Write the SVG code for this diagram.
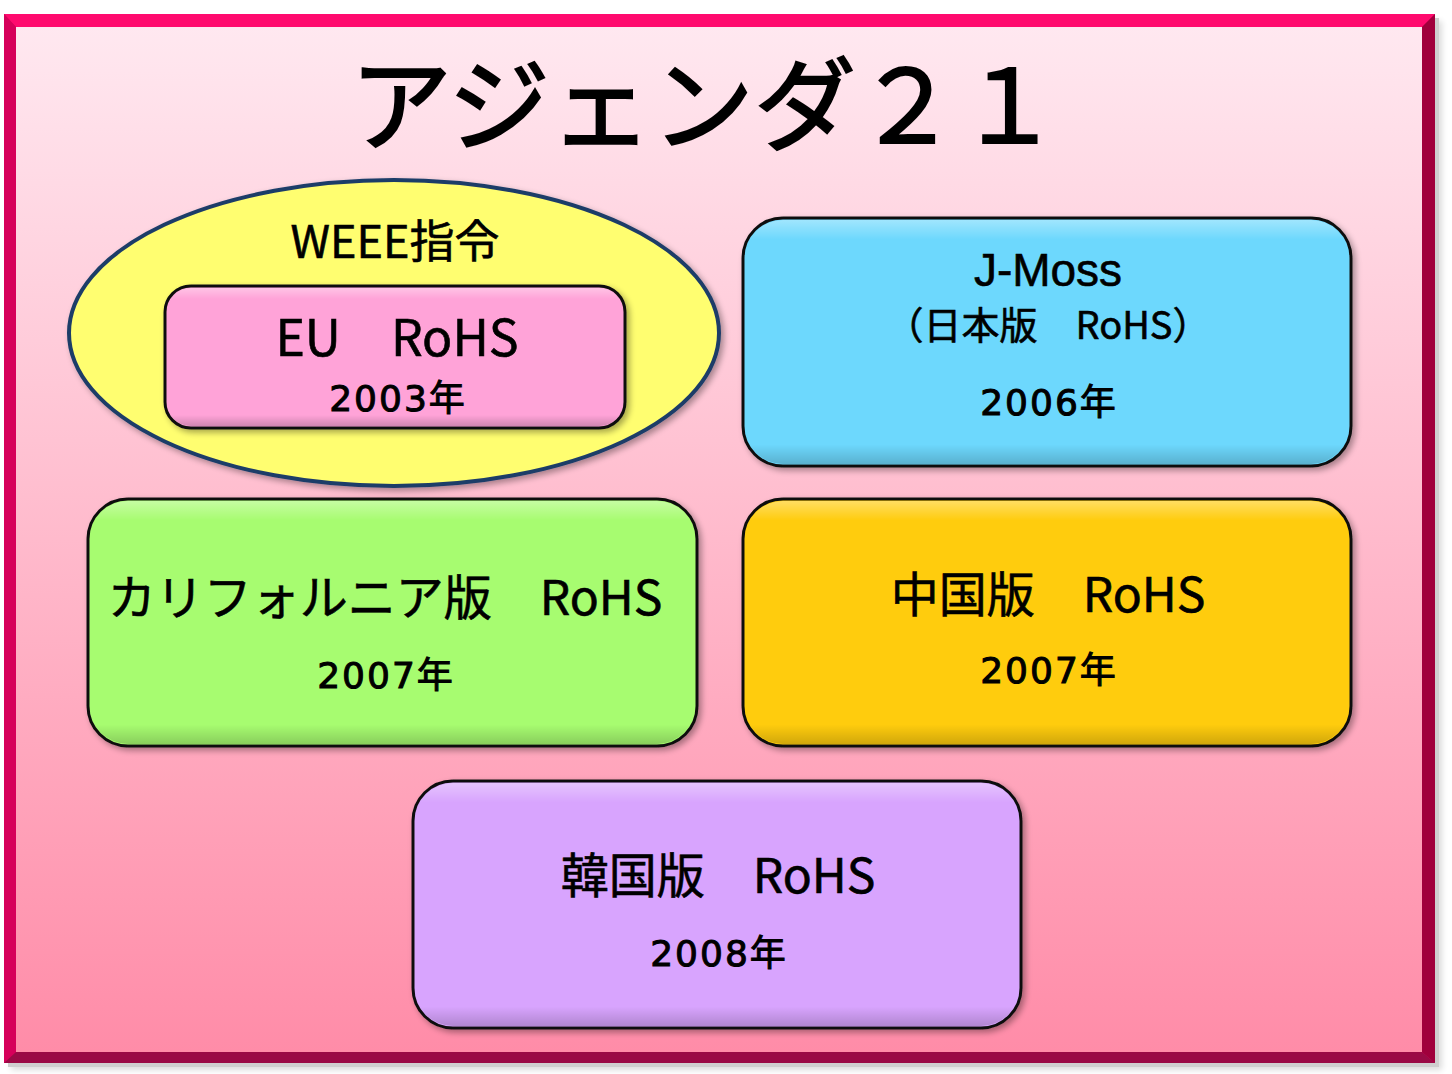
<svg xmlns="http://www.w3.org/2000/svg" width="1452" height="1074" viewBox="0 0 1452 1074">
<defs>
<linearGradient id="bg" x1="0" y1="0" x2="0" y2="1">
<stop offset="0" stop-color="#ffe8f0"/>
<stop offset="1" stop-color="#ff8ca8"/>
</linearGradient>
<filter id="sh" x="-10%" y="-10%" width="120%" height="120%">
<feGaussianBlur in="SourceAlpha" stdDeviation="3"/>
<feOffset dx="3" dy="3"/>
<feComponentTransfer><feFuncA type="linear" slope="0.35"/></feComponentTransfer>
<feMerge><feMergeNode/><feMergeNode in="SourceGraphic"/></feMerge>
</filter>
<linearGradient id="gl" x1="0" y1="0" x2="0" y2="1">
<stop offset="0" stop-color="#ffffff" stop-opacity="0.35"/>
<stop offset="0.08" stop-color="#ffffff" stop-opacity="0"/>
<stop offset="0.92" stop-color="#000000" stop-opacity="0"/>
<stop offset="1" stop-color="#000000" stop-opacity="0.18"/>
</linearGradient>
</defs>
<style>
.t{font-family:"Noto Sans CJK JP","Liberation Sans",sans-serif;fill:#000;stroke:#000;stroke-width:0.6px;text-anchor:middle}
.yr{font-family:"DejaVu Sans","Noto Sans CJK JP",sans-serif;font-size:36px;stroke-width:1px;letter-spacing:2px}
.box{stroke:#111;stroke-width:3}
</style>
<rect width="1452" height="1074" fill="#ffffff"/>
<g id="frame">
<rect x="8" y="18" width="1431" height="1049" fill="#888" opacity="0.4" filter="url(#sh)"/>
<rect x="4" y="14" width="1431" height="1049" fill="#e0005a"/>
<polygon points="4,14 1435,14 1422,27 16,27" fill="#ff0a6e"/>
<polygon points="4,14 16,27 16,1052 4,1063" fill="#d6005a"/>
<polygon points="1435,14 1435,1063 1422,1052 1422,27" fill="#a0003c"/>
<polygon points="4,1063 1435,1063 1422,1052 16,1052" fill="#9a0a45"/>
<rect x="16" y="27" width="1406" height="1025" fill="url(#bg)"/>
</g>
<g id="title">
<text class="t" x="705" y="143" style="font-size:102px;stroke-width:2px">アジェンダ２１</text>
</g>
<g id="weee">
<ellipse cx="394" cy="333" rx="325" ry="153" fill="#fffe70" stroke="#1f3d68" stroke-width="4" filter="url(#sh)"/>
<text class="t" x="395" y="258" style="font-size:45px">WEEE指令</text>
</g>
<g id="eu">
<rect class="box" x="165" y="286" width="460" height="142" rx="26" fill="#ffa3d8" filter="url(#sh)"/>
<rect x="167" y="288" width="456" height="138" rx="24" fill="url(#gl)"/>
<text class="t" x="397" y="356" style="font-size:50px">EU　RoHS</text>
<text class="t yr" x="398" y="411">2003年</text>
</g>
<g id="jmoss">
<rect class="box" x="743" y="218" width="608" height="248" rx="40" fill="#6dd8fd" filter="url(#sh)"/>
<rect x="745" y="220" width="604" height="244" rx="38" fill="url(#gl)"/>
<text class="t" x="1048" y="286" style="font-family:'Liberation Sans',sans-serif;font-size:46px">J-Moss</text>
<text class="t" x="1048" y="339" style="font-size:38px">（日本版　RoHS）</text>
<text class="t yr" x="1049" y="415">2006年</text>
</g>
<g id="california">
<rect class="box" x="88" y="499" width="609" height="247" rx="40" fill="#a7fc70" filter="url(#sh)"/>
<rect x="90" y="501" width="605" height="243" rx="38" fill="url(#gl)"/>
<text class="t" x="385" y="615" style="font-size:48px">カリフォルニア版　RoHS</text>
<text class="t yr" x="386" y="688">2007年</text>
</g>
<g id="china">
<rect class="box" x="743" y="499" width="608" height="247" rx="40" fill="#ffcc0a" filter="url(#sh)"/>
<rect x="745" y="501" width="604" height="243" rx="38" fill="url(#gl)"/>
<text class="t" x="1048" y="612" style="font-size:48px">中国版　RoHS</text>
<text class="t yr" x="1049" y="683">2007年</text>
</g>
<g id="korea">
<rect class="box" x="413" y="781" width="608" height="247" rx="40" fill="#d8a4fe" filter="url(#sh)"/>
<rect x="415" y="783" width="604" height="243" rx="38" fill="url(#gl)"/>
<text class="t" x="718" y="893" style="font-size:48px">韓国版　RoHS</text>
<text class="t yr" x="719" y="966">2008年</text>
</g>
<g id="connectors"/>
</svg>
